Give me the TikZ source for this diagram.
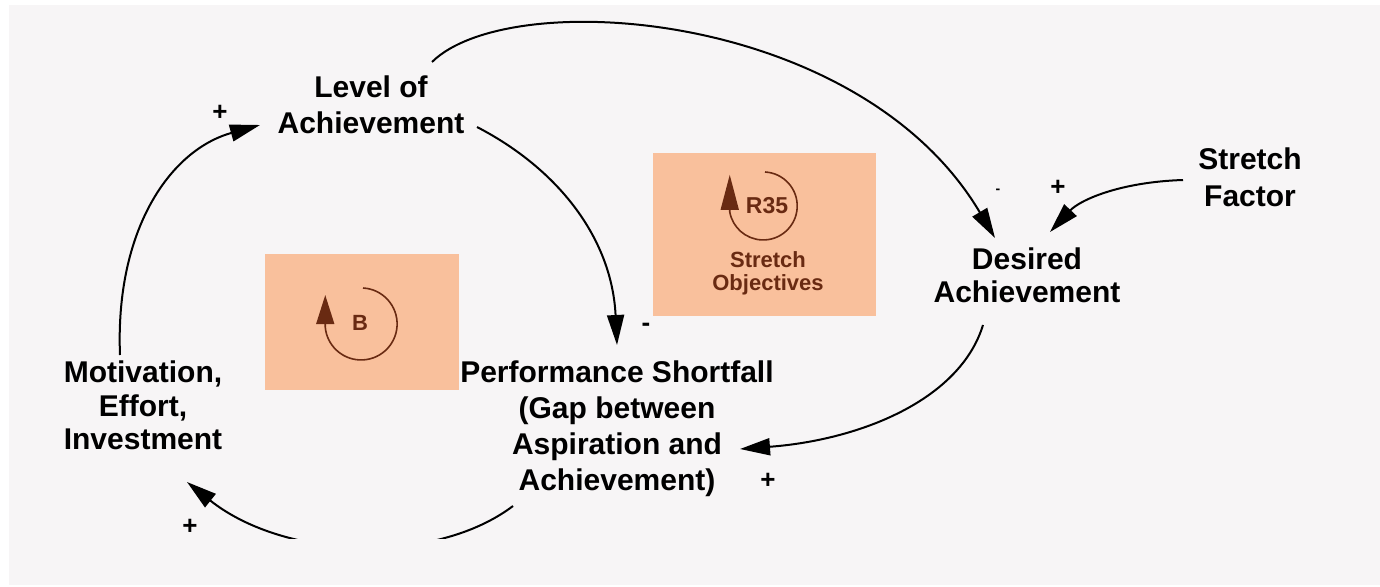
\documentclass[tikz,border=0pt]{standalone}
\usepackage{fontspec}
\setmainfont{Liberation Sans}
\usetikzlibrary{arrows.meta}
\definecolor{bggray}{RGB}{247,245,246}
\definecolor{peach}{RGB}{249,192,156}
\definecolor{loopbrown}{RGB}{105,42,18}
\begin{document}
\begin{tikzpicture}[x=1pt,y=-1pt,
  var/.style={font=\bfseries\fontsize{30}{36}\selectfont, align=center, inner sep=0pt, anchor=center},
  pol/.style={font=\bfseries\fontsize{26}{26}\selectfont, inner sep=0pt},
  link/.style={line width=2pt, -{Triangle[length=30pt,width=17pt]}},
  loopline/.style={draw=loopbrown, line width=1.6pt},
  looptxt/.style={text=loopbrown, inner sep=0pt, align=center}
]
\useasboundingbox (0,0) rectangle (1380,586);
\fill[white] (0,0) rectangle (1380,586);
\fill[bggray] (9,5) rectangle (1380,585);
\fill[peach] (653,153) rectangle (876,316);
\fill[peach] (265,254) rectangle (459,390);

% loop icons
\draw[loopline, -{Triangle[length=35pt,width=18pt]}] (765,172) arc[start angle=-87, end angle=170, radius=34] -- ++(0,-37);
\node[looptxt, font=\bfseries\fontsize{23}{23}\selectfont] (r35) at (767,206) {R35};
\node[looptxt, font=\bfseries\fontsize{22}{23}\selectfont] (so) at (768,273) {Stretch\\Objectives};
\draw[loopline, -{Triangle[length=29pt,width=18pt]}] (363,288) arc[start angle=-87, end angle=175, radius=36] -- ++(0,-32);
\node[looptxt, font=\bfseries\fontsize{22}{22}\selectfont] (b) at (360,323) {B};

% variables
\node[var] (lvl) at (371,105) {Level of\\Achievement};
\node[var, font=\bfseries\fontsize{30}{37}\selectfont] (sf) at (1250,177.5) {Stretch\\Factor};
\node[var, font=\bfseries\fontsize{30}{33}\selectfont] (des) at (1027,275.5) {Desired\\Achievement};
\node[var] (perf) at (617,429) {Performance Shortfall\\(Gap between\\Aspiration and\\Achievement)};
\node[var, font=\bfseries\fontsize{30}{33.5}\selectfont] (mot) at (143,405.5) {Motivation,\\Effort,\\Investment};

% links
\draw[link] ([shift={(61,-43)}]lvl.center) .. controls +(78,-77) and +(-135,-228) .. ([shift={(-32,-37.5)}]des.center);
\draw[link] ([shift={(106,22)}]lvl.center) .. controls +(83,43) and +(-5,-105) .. ([shift={(0,-84)}]perf.center);
\draw[link] ([shift={(-44,49.5)}]des.center) .. controls +(-23,75) and +(120,-9) .. ([shift={(123,20)}]perf.center);
\begin{scope}
\clip (0,0) rectangle (1380,538);
\draw[link] ([shift={(-104,77)}]perf.center) .. controls +(-78,59) and +(98,78) .. ([shift={(44,76.5)}]mot.center);
\end{scope}
\draw[link] ([shift={(-23,-50.5)}]mot.center) .. controls +(-5,-125) and +(-90,25) .. ([shift={(-111,20)}]lvl.center);
\draw[link] ([shift={(-67,2.5)}]sf.center) .. controls +(-63,2) and +(30,-32) .. ([shift={(23,-43.5)}]des.center);

% polarities
\node[pol] (p1) at (220,113) {+};
\node[pol] (p2) at (1058,188) {+};
\node[pol] (p3) at (768,481) {+};
\node[pol] (p4) at (190,527) {+};
\node[pol] (m1) at (646,327) {-};
\node[pol, font=\bfseries\fontsize{14}{14}\selectfont] (m2) at (998,191) {-};
\end{tikzpicture}
\end{document}
